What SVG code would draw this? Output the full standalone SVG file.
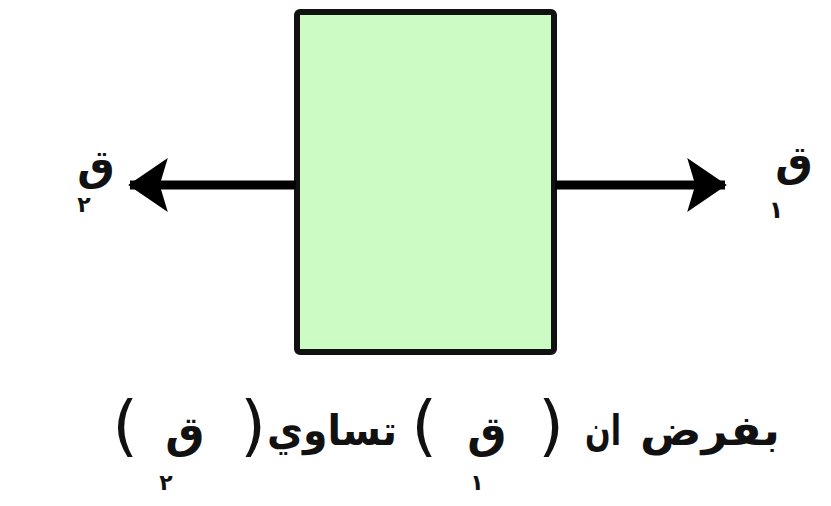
<svg xmlns="http://www.w3.org/2000/svg" width="831" height="506" viewBox="0 0 831 506">
<style>
.t{font-family:"DejaVu Sans",sans-serif;font-weight:bold;fill:#111}
.p{font-family:"DejaVu Sans",sans-serif;font-weight:normal;fill:#111;direction:ltr;unicode-bidi:bidi-override}
</style>
<defs>
<marker id="ah" markerWidth="5" markerHeight="6" refX="4.2" refY="3" orient="auto" markerUnits="strokeWidth">
<path d="M0,0 L4.4,3 L0,6 L0.9,3 Z" fill="#000"/>
</marker>
</defs>
<rect width="831" height="506" fill="#fff"/>
<g id="box">
<rect x="297" y="12" width="257" height="340" rx="3" fill="#ccfcc4" stroke="#111" stroke-width="6"/>
</g>
<g id="connectors">
<line x1="296" y1="185" x2="130" y2="185" stroke="#000" stroke-width="9" marker-end="url(#ah)"/>
<line x1="555" y1="185" x2="725" y2="185" stroke="#000" stroke-width="9" marker-end="url(#ah)"/>
</g>
<g id="label-left">
<text class="t" x="96" y="180" font-size="42" text-anchor="middle">ق</text>
<text class="t" x="84" y="212" font-size="22" text-anchor="middle">٢</text>
</g>
<g id="label-right">
<text class="t" x="794" y="176" font-size="42" text-anchor="middle">ق</text>
<text class="t" x="776" y="218" font-size="24" text-anchor="middle">١</text>
</g>
<g id="caption">
<text class="p" x="125" y="448" font-size="66" text-anchor="middle">(</text>
<text class="t" x="185" y="448" font-size="44" text-anchor="middle">ق</text>
<text class="t" x="166" y="490" font-size="22" text-anchor="middle">٢</text>
<text class="p" x="253" y="448" font-size="66" text-anchor="middle">)</text>
<text class="t" x="332" y="445" font-size="42" text-anchor="middle" textLength="130" lengthAdjust="spacingAndGlyphs">تساوي</text>
<text class="p" x="424" y="448" font-size="66" text-anchor="middle">(</text>
<text class="t" x="487" y="448" font-size="44" text-anchor="middle">ق</text>
<text class="t" x="477" y="490" font-size="22" text-anchor="middle">١</text>
<text class="p" x="551" y="448" font-size="66" text-anchor="middle">)</text>
<text class="t" x="603" y="445" font-size="42" text-anchor="middle" textLength="36" lengthAdjust="spacingAndGlyphs">ان</text>
<text class="t" x="710" y="445" font-size="42" text-anchor="middle" textLength="140" lengthAdjust="spacingAndGlyphs">بفرض</text>
</g>
</svg>
